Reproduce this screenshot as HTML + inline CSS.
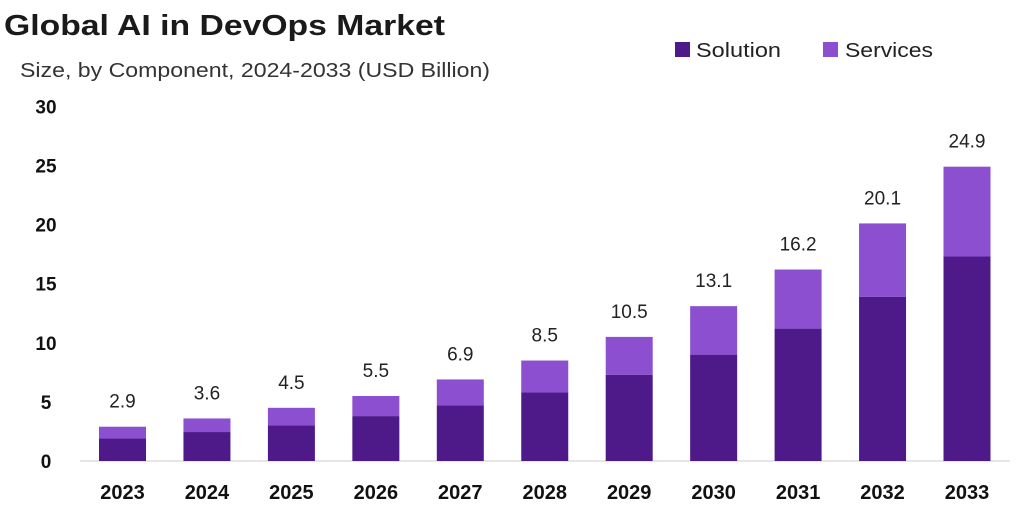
<!DOCTYPE html>
<html><head><meta charset="utf-8"><style>
body{margin:0;background:#fff;font-family:"Liberation Sans",sans-serif}
svg{display:block}
</style></head><body>
<svg width="1024" height="509" viewBox="0 0 1024 509" id="chart">
<text x="4" y="35" font-size="29" font-weight="bold" fill="#1a1a1a" textLength="441" lengthAdjust="spacingAndGlyphs">Global AI in DevOps Market</text>
<text x="20" y="77" font-size="20" fill="#333" textLength="470" lengthAdjust="spacingAndGlyphs">Size, by Component, 2024-2033 (USD Billion)</text>
<g>
<rect x="675" y="42" width="15" height="15" fill="#4e1a8a"/>
<text x="696" y="57" font-size="20" fill="#222" textLength="85" lengthAdjust="spacingAndGlyphs">Solution</text>
<rect x="823" y="42" width="15" height="15" fill="#8b4fd0"/>
<text x="845" y="57" font-size="20" fill="#222" textLength="88" lengthAdjust="spacingAndGlyphs">Services</text>
</g>
<line x1="80" y1="461" x2="1010" y2="461" stroke="#ddd" stroke-width="1.5"/>
<g id="yaxis"></g><g id="bars"></g>
</svg>
<script>
const years=["2023","2024","2025","2026","2027","2028","2029","2030","2031","2032","2033"];
const totals=[2.9,3.6,4.5,5.5,6.9,8.5,10.5,13.1,16.2,20.1,24.9];
const solution=[1.9,2.45,3.0,3.8,4.7,5.8,7.3,9.0,11.2,13.9,17.3];
const yTicks=[0,5,10,15,20,25,30];
const ns="http://www.w3.org/2000/svg";
const y0=461,pxPer=11.82,x0=122.5,step=84.45,bw=47;
const y=v=>y0-v*pxPer, x=i=>x0+i*step;
function mk(t,a){const e=document.createElementNS(ns,t);for(const k in a)e.setAttribute(k,a[k]);return e;}
const ya=document.getElementById('yaxis'),bg=document.getElementById('bars');
yTicks.forEach(v=>{const t=mk('text',{x:46,y:y(v)+7,'font-size':19,'font-weight':'bold','text-anchor':'middle',fill:'#111'});


t.textContent=v;ya.appendChild(t);});
years.forEach((yr,i)=>{
const s=solution[i],tot=totals[i];
const r1=mk('rect',{x:x(i)-bw/2,y:y(s),width:bw,height:y0-y(s),fill:'#4e1a8a'});


bg.appendChild(r1);
const r2=mk('rect',{x:x(i)-bw/2,y:y(tot),width:bw,height:y(s)-y(tot),fill:'#8b4fd0'});


bg.appendChild(r2);
const l=mk('text',{x:x(i),y:y(tot)-19,'font-size':19,'text-anchor':'middle',fill:'#222'});


l.textContent=tot;bg.appendChild(l);
const xl=mk('text',{x:x(i),y:499,'font-size':20,'font-weight':'bold','text-anchor':'middle',fill:'#111'});


xl.textContent=yr;bg.appendChild(xl);
});
</script>
</body></html>
